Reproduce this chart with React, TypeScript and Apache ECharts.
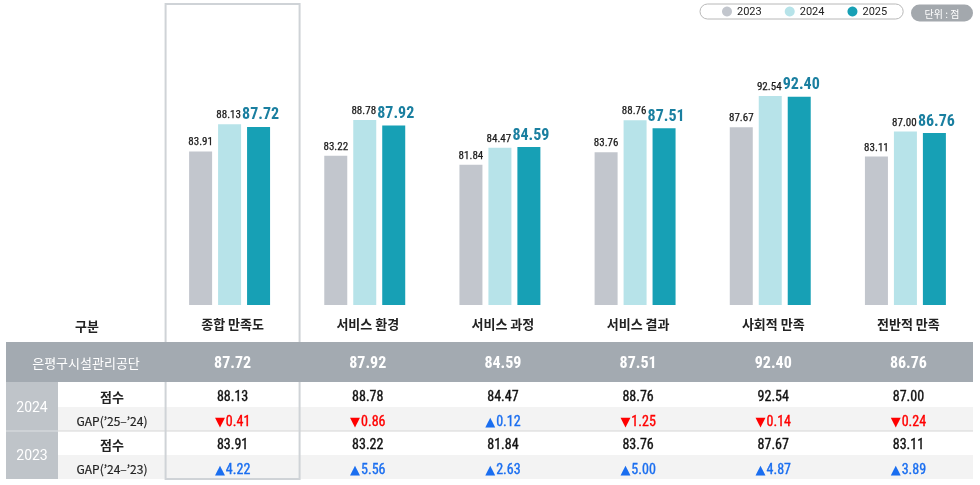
import React, { useEffect, useRef } from "react";
import * as echarts from "echarts";

const categories = ["종합 만족도", "서비스 환경", "서비스 과정", "서비스 결과", "사회적 만족", "전반적 만족"];
const years = ["2023", "2024", "2025"];
const v2023 = [83.91, 83.22, 81.84, 83.76, 87.67, 83.11];
const v2024 = [88.13, 88.78, 84.47, 88.76, 92.54, 87.0];
const v2025 = [87.72, 87.92, 84.59, 87.51, 92.4, 86.76];
const gap2524 = [-0.41, -0.86, 0.12, -1.25, -0.14, -0.24];
const gap2423 = [4.22, 5.56, 2.63, 5.0, 4.87, 3.89];
const orgName = "은평구시설관리공단";
const headLabel = "구분";
const scoreLabel = "점수";
const gapLabel2524 = "GAP(’25–’24)";
const gapLabel2423 = "GAP(’24–’23)";
const unitLabel = "단위 : 점";

const NUM = "'Roboto Condensed',sans-serif";
const KR = "'Noto Sans CJK KR','Noto Sans',sans-serif";
const C23 = "#c2c6cd";
const C24 = "#b7e3e9";
const C25 = "#17a0b5";

export default function App() {
  const ref = useRef<HTMLDivElement>(null);
  useEffect(() => {
    if (!ref.current) return;
    const chart = echarts.init(ref.current, null, { renderer: "svg" });
    const smallLabel = (dx: number) => ({
      show: true,
      position: "top",
      distance: 4,
      offset: [dx, 0],
      fontFamily: NUM,
      fontSize: 11,
      color: "#1a1a1a",
      textBorderColor: "#1a1a1a",
      textBorderWidth: 0.25,
      formatter: (p: any) => p.value.toFixed(2),
    });
    chart.setOption({
      animation: false,
      legend: {
        data: years,
        left: 700,
        top: 4,
        padding: [2, 16, 2, 22],
        itemWidth: 10,
        itemHeight: 10,
        itemGap: 23,
        icon: "circle",
        borderColor: "#b8b8b8",
        borderWidth: 1,
        borderRadius: 9,
        backgroundColor: "#fff",
        textStyle: { fontFamily: "Roboto, sans-serif", fontSize: 11, color: "#222" },
      },
      grid: { left: 162, right: 7, top: 48, bottom: 180 },
      xAxis: {
        type: "category",
        data: categories,
        axisLine: { show: false },
        axisTick: { show: false },
        axisLabel: {
          margin: 12,
          fontFamily: KR,
          fontSize: 13,
          fontWeight: "bold",
          color: "#222",
          padding: [0, 0, 0, 6],
        },
      },
      yAxis: { type: "value", min: 60, max: 100, show: false, splitLine: { show: false } },
      series: [
        {
          name: "2023",
          type: "bar",
          data: v2023,
          barWidth: 23,
          barGap: "26%",
          itemStyle: { color: C23 },
          label: smallLabel(0),
        },
        {
          name: "2024",
          type: "bar",
          data: v2024,
          barWidth: 23,
          barGap: "26%",
          itemStyle: { color: C24 },
          label: smallLabel(-1),
        },
        {
          name: "2025",
          type: "bar",
          data: v2025,
          barWidth: 23,
          barGap: "26%",
          itemStyle: { color: C25 },
          label: {
            show: true,
            position: "top",
            distance: 5,
            offset: [2, 0],
            fontFamily: NUM,
            fontSize: 16,
            fontWeight: "bold",
            color: "#1a7fa0",
            formatter: (p: any) => p.value.toFixed(2),
          },
        },
      ],
    });

    const xs = categories.map((c) => (chart.convertToPixel({ xAxisIndex: 0 }, c) as number) + 3);
    const L = 6;
    const R = 973;
    const g: any[] = [];
    // unit pill
    g.push({ type: "rect", shape: { x: 911, y: 4.5, width: 62, height: 17, r: 8.5 }, style: { fill: "#a3a8ad" } });
    g.push({
      type: "text",
      x: 942,
      y: 13,
      style: { text: unitLabel, fill: "#fff", font: `10px ${KR}`, align: "center", verticalAlign: "middle" },
    });
    // gap rows background
    g.push({ type: "rect", shape: { x: 58, y: 407, width: R - 58, height: 24 }, style: { fill: "#f3f3f3" } });
    g.push({ type: "rect", shape: { x: 58, y: 455, width: R - 58, height: 24 }, style: { fill: "#f3f3f3" } });
    g.push({ type: "line", shape: { x1: 58, y1: 431, x2: R, y2: 431 }, style: { stroke: "#d6d6d6", lineWidth: 1 } });
    // highlight box
    g.push({
      type: "rect",
      shape: { x: xs[0] - 67, y: 4, width: 134, height: 475 },
      style: { fill: "none", stroke: "#cfd3d7", lineWidth: 2 },
    });
    // header row
    g.push({ type: "rect", shape: { x: L, y: 342, width: R - L, height: 40 }, style: { fill: "#a3aab1" } });
    // year cells
    g.push({ type: "rect", shape: { x: L, y: 382, width: 52, height: 49 }, style: { fill: "#bfc4c9" } });
    g.push({ type: "rect", shape: { x: L, y: 431, width: 52, height: 48 }, style: { fill: "#bfc4c9" } });
    g.push({ type: "line", shape: { x1: L, y1: 431, x2: 58, y2: 431 }, style: { stroke: "#dde0e3", lineWidth: 1 } });

    const txt = (x: number, y: number, text: string, font: string, fill: string, bold = 0) =>
      g.push({
        type: "text",
        x,
        y,
        style: {
          text,
          font,
          fill,
          align: "center",
          verticalAlign: "middle",
          ...(bold ? { stroke: fill, lineWidth: bold } : {}),
        },
      });

    txt(87, 325, headLabel, `bold 13px ${KR}`, "#222");
    txt(86, 362, orgName, `13px ${KR}`, "#fff");
    txt(32, 407, "2024", "14px Roboto, sans-serif", "#fff");
    txt(32, 455, "2023", "14px Roboto, sans-serif", "#fff");
    txt(112, 396, scoreLabel, `bold 13px ${KR}`, "#222");
    txt(112, 444, scoreLabel, `bold 13px ${KR}`, "#222");
    txt(112, 420, gapLabel2524, `12px ${KR}`, "#222", 0.2);
    txt(112, 468, gapLabel2423, `12px ${KR}`, "#222", 0.2);

    const gapItem = (x: number, y: number, v: number) => {
      const color = v < 0 ? "#ff0000" : "#1a6ef0";
      g.push({
        type: "text",
        x,
        y,
        style: {
          text: `{t|${v < 0 ? "▼" : "▲"}}{n|${Math.abs(v).toFixed(2)}}`,
          fill: color,
          align: "center",
          verticalAlign: "middle",
          rich: {
            t: { fontFamily: "DejaVu Sans", fontSize: 13, fill: color, padding: [0, 1, 0, 0] },
            n: { fontFamily: NUM, fontSize: 14, fill: color, stroke: color, lineWidth: 0.35 },
          },
        },
      });
    };
    xs.forEach((x, i) => {
      txt(x, 362, v2025[i].toFixed(2), `bold 16px ${NUM}`, "#fff");
      txt(x, 396, v2024[i].toFixed(2), `14px ${NUM}`, "#111", 0.35);
      gapItem(x, 421, gap2524[i]);
      txt(x, 444, v2023[i].toFixed(2), `14px ${NUM}`, "#111", 0.35);
      gapItem(x, 469, gap2423[i]);
    });

    chart.setOption({ graphic: g });
    return () => chart.dispose();
  }, []);
  return <div ref={ref} style={{ position: "fixed", left: 0, top: 0, width: 980, height: 485 }} />;
}
